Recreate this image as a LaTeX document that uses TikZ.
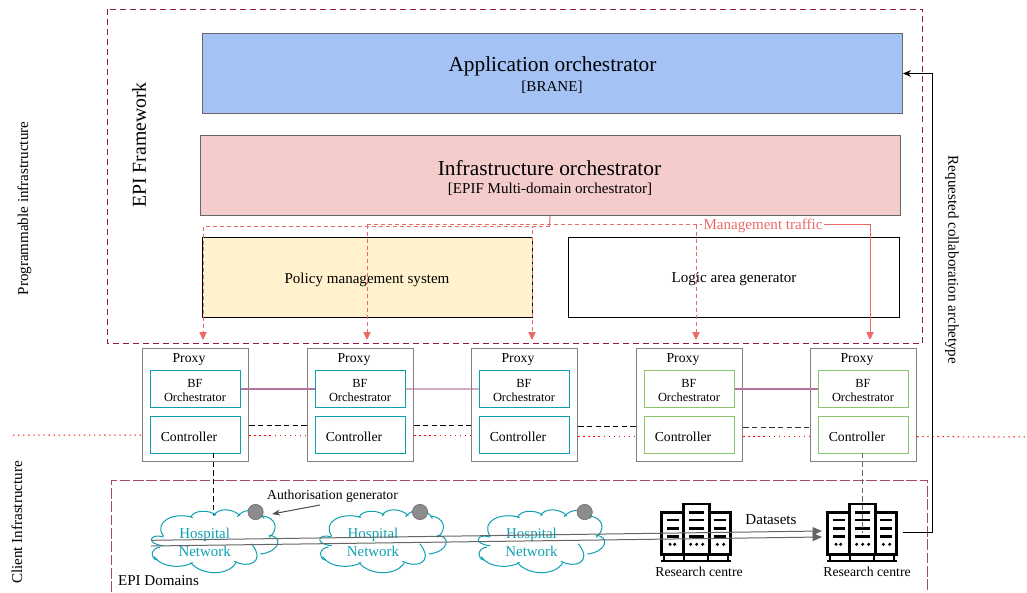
\documentclass[tikz,border=0pt]{standalone}
\usepackage{fontspec}
\setmainfont{Liberation Serif}
\usetikzlibrary{arrows.meta,calc}
\definecolor{frameM}{HTML}{8E1A4E}
\definecolor{teal1}{HTML}{0E9FB0}
\definecolor{green1}{HTML}{8CC56F}
\definecolor{mgmt}{HTML}{EA6B66}
\definecolor{mauve}{HTML}{B5739D}
\tikzset{
  big/.style={font=\fontsize{16}{18}\selectfont},
  med/.style={font=\fontsize{11.3}{13}\selectfont},
  sm/.style={font=\fontsize{10.3}{12}\selectfont},
  layerbox/.style={draw=#1,line width=.75pt,anchor=north west,inner sep=0pt},
  proxybox/.style={draw=gray,line width=.9pt,anchor=north west,minimum width=79.5pt,minimum height=84.75pt,inner sep=0pt},
  innerbox/.style={draw=#1,line width=.8pt,anchor=north west,minimum width=67pt,minimum height=27.75pt,inner sep=0pt},
  frameline/.style={draw=frameM,line width=.7pt,dash pattern=on 4.5pt off 3pt},
  mgmtline/.style={draw=mgmt,line width=.75pt},
  mgmtdash/.style={mgmtline,dash pattern=on 3pt off 2.2pt},
  mtip/.style={-{Triangle[length=6pt,width=5.5pt,fill=mgmt]}},
  ctrllink/.style={draw=black,line width=.75pt,dash pattern=on 4pt off 2.5pt},
  bflink/.style={draw=mauve,line width=.9pt},
  redline/.style={draw=red,line width=.75pt,dash pattern=on 1pt off 2.8pt},
  txt/.style={inner sep=0pt,align=center},
  pics/hospital/.style={code={
    \begin{scope}[x=.25pt,y=-.25pt,shift={(-152,-420)},draw=teal1,line width=.75pt,line cap=round]
      \draw (190,411) .. controls (150,398) and (135,432) .. (190,437);
      \draw (180,441) .. controls (150,445) and (150,478) .. (172,480);
      \draw (163,470) .. controls (185,505) and (250,505) .. (278,488);
      \draw (272,488) .. controls (305,528) and (385,528) .. (408,488);
      \draw (403,484) .. controls (440,505) and (500,490) .. (455,432);
      \draw (482,462) .. controls (540,455) and (550,410) .. (508,406);
      \draw (508,412) .. controls (540,385) and (525,352) .. (488,348);
      \draw (492,355) .. controls (475,322) and (430,325) .. (412,350);
      \draw (420,347) .. controls (395,322) and (350,325) .. (342,347);
      \draw (347,345) .. controls (325,328) and (280,330) .. (272,352);
      \draw (278,352) .. controls (220,335) and (160,365) .. (190,408);
    \end{scope}
  }},
  pics/servers/.style={code={
    \begin{scope}[x=.25pt,y=-.25pt,shift={(-409,-399)},line width=2.1pt,draw=black,fill=black]
      \draw[fill=white] (306,337) rectangle (371,463);
      \draw[fill=white] (449,337) rectangle (513,463);
      \draw[fill=white] (371,312) rectangle (449,463);
      \foreach \yy in {360,385,410}{
        \draw[line width=1.9pt] (322,\yy) -- (358,\yy);
        \draw[line width=1.9pt] (388,\yy) -- (432,\yy);
        \draw[line width=1.9pt] (462,\yy) -- (498,\yy);
      }
      \draw[line width=1.9pt] (388,337) -- (432,337);
      \foreach \xx in {331,345,393,411,429,473,492}{\fill (\xx,433) circle (5);}
      \draw[line width=2pt] (303,483) -- (515,483);
      \foreach \xx in {314,374,445,505}{\draw[line width=1.5pt] (\xx,463) -- (\xx,480);}
    \end{scope}
  }},
}
\begin{document}
\begin{tikzpicture}[x=.75pt,y=-.75pt]
\useasboundingbox (0,0) rectangle (1027,592);

% frames
\draw[frameline] (107,9) rectangle (922.5,343);
\coordinate (dbl) at (111.5,592);
\coordinate (dbr) at (927,592);
\draw[frameline,draw opacity=.8,dash pattern=on 8pt off 2pt] (dbl) |- (dbr |- 0,480) -- (dbr);

% layers
\node[layerbox=black!60,minimum width=525pt,minimum height=60pt,fill={rgb,255:red,164;green,194;blue,244}] (app) at (202,33) {};
\node[layerbox=black!60,minimum width=525pt,minimum height=60pt,fill={rgb,255:red,244;green,204;blue,204}] (infra) at (199.5,135) {};
\node[layerbox=black,minimum width=247.5pt,minimum height=60pt,fill={rgb,255:red,255;green,242;blue,204}] (policy) at (201.7,237) {};
\node[layerbox=black,minimum width=248pt,minimum height=60pt,fill=white] (logic) at (568.3,236.5) {};
\node[txt,big] (appt) at (552.5,66.5) {Application orchestrator};
\node[txt,med] (appb) at (552,87) {[BRANE]};
\node[txt,big] (inft) at (549.5,168) {Infrastructure orchestrator};
\node[txt,med] (infb) at (550,189) {[EPIF Multi-domain orchestrator]};
\node[txt,med] (polt) at (367,280) {Policy management system};
\node[txt,med] (logt) at (734,279) {Logic area generator};

% proxies
\foreach \n/\x/\c in {1/142/teal1,2/307/teal1,3/471/teal1,4/636/green1,5/810/green1}{
  \node[proxybox] (p\n) at (\x,348) {};
  \node[txt,sm] (pt\n) at (\x+47,359.5) {Proxy};
  \node[innerbox=\c] (bf\n) at (\x+8.2,370) {};
  \node[txt,font=\fontsize{9.3}{10.5}\selectfont] (bft\n) at (\x+53,390) {BF\\Orchestrator};
  \node[innerbox=\c] (ct\n) at (\x+8.2,416) {};
  \node[txt,font=\fontsize{10.3}{12}\selectfont] (ctt\n) at (\x+47,436.5) {Controller};
}

% links between proxies
\draw[bflink] (bf1.east) -- (bf2.west);
\draw[bflink,draw opacity=.6] (bf2.east) -- (bf3.west);
\draw[bflink] (bf4.east) -- (bf5.west);
\draw[ctrllink] (p1.east |- 0,425) -- (p2.west |- 0,425);
\draw[ctrllink] (p2.east |- 0,425.7) -- (p3.west |- 0,425.7);
\draw[ctrllink] (p3.east |- 0,426.3) -- (p4.west |- 0,426.3);
\draw[ctrllink,draw=black!80] (p4.east |- 0,427) -- (p5.west |- 0,427);
\coordinate (redl) at (13,435);
\coordinate (redr) at (1027,437);
\draw[redline] (redl) -- (p1.west |- 0,435.2);
\draw[redline] (p1.east |- 0,435.4) -- (p2.west |- 0,435.4);
\draw[redline] (p2.east |- 0,435.7) -- (p3.west |- 0,435.7);
\draw[redline] (p3.east |- 0,436) -- (p4.west |- 0,436);
\draw[redline] (p4.east |- 0,436.3) -- (p5.west |- 0,436.3);
\draw[redline] (p5.east |- 0,436.6) -- (redr);

% management traffic
\coordinate (m1) at (203,340);
\coordinate (m2) at (367,340);
\coordinate (m3) at (532,340);
\coordinate (m4) at (696,340);
\coordinate (m5) at (870,340);
\node[txt,fill=white,text=mgmt,med,inner xsep=1pt,inner ysep=1pt] (mt) at (763,225.5) {Management traffic};
\draw[mgmtline] (infra.south) -- (549.5,226.5);
\draw[mgmtdash,mtip] (549.5,226.5) -| (m1);
\draw[mgmtdash,mtip] (549.5,226.5) -| (m3);
\draw[mgmtdash,mtip] (367,224.7) -- (m2);
\draw[mgmtdash] (367,224.7) -- (mt.west |- 0,224.7);
\draw[mgmtline,mtip] (mt.east |- 0,224.7) -| (m5);
\draw[mgmtdash,mtip] (696,224.7) -- (m4);

% clouds
\foreach \n/\x in {1/150.7,2/319,3/477.5}{
  \pic at (\x,540) {hospital};
  \coordinate (cl\n) at (\x,540);
  \node[txt,text=teal1,font=\fontsize{11.2}{13.5}\selectfont] (ht\n) at (\x+54,542) {Hospital\\Network};
}
\foreach \n/\x in {1/255.6,2/420,3/584.7}{
  \node[circle,draw=black!60,fill=black!45,minimum size=11.5pt,inner sep=0pt] (g\n) at (\x,512) {};
}
\node[txt,sm] (auth) at (332.5,496) {Authorisation generator};
\coordinate (authend) at ($(g1.center)+(16.5,2)$);
\draw[draw=black!70,line width=.75pt,-{Stealth[length=6pt,width=4.5pt]}] (320,505) -- (authend);

% servers
\node[minimum width=53pt,minimum height=45pt,inner sep=0pt] (s1) at (696,533) {};
\node[minimum width=53pt,minimum height=45pt,inner sep=0pt] (s2) at (862,533) {};
\pic at (s1.center) {servers};
\pic at (s2.center) {servers};
\node[txt,sm] (rc1) at (699,572) {Research centre};
\node[txt,sm] (rc2) at (867,572) {Research centre};
\node[txt,med] (ds) at (771,520) {Datasets};

% controller to site
\draw[ctrllink] (213,453) -- (213,515);
\draw[ctrllink,draw=black!60] (862,453) -- (s2.center);

% data flows
\coordinate (e1) at (822,531);
\coordinate (e2) at (822,537);
\coordinate (o1) at (151,540.3);
\coordinate (o2) at (151,546);
\draw[draw=black!60,line width=.75pt,-{Triangle[length=7pt,width=6pt]}] (o1) -- (e1);
\draw[draw=black!60,line width=.75pt,-{Triangle[length=7pt,width=6pt]}] (o2) -- (e2);

% requested collaboration
\coordinate (q) at (932,532);
\draw[draw=black,line width=.75pt,-{Stealth[length=6pt,width=5pt]}] (903,532) -- (q) |- (app.east);

% labels
\node[txt,rotate=90,font=\fontsize{14.8}{16}\selectfont] (epif) at (139,145) {EPI Framework};
\node[txt,rotate=90,med] (prog) at (24.5,208.5) {Programmable infrastructure};
\node[txt,rotate=90,med] (clin) at (17,522.5) {Client Infrastructure};
\node[txt,rotate=-90,med] (req) at (952,260) {Requested collaboration archetype};
\node[txt,med] (dom) at (158.5,581) {EPI Domains};
\end{tikzpicture}
\end{document}
